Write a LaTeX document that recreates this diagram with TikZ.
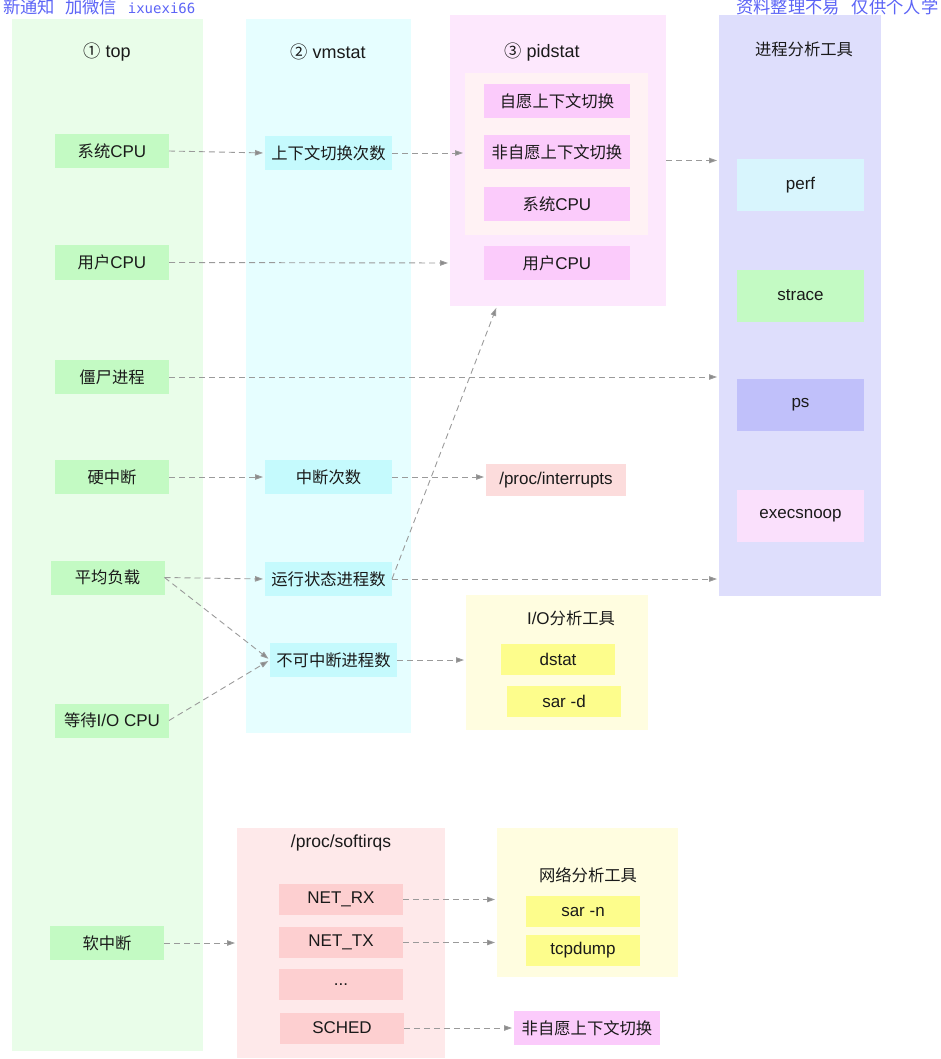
\documentclass[tikz,border=0pt]{standalone}
\usepackage{fontspec}
\setmainfont{Liberation Sans}
\newfontfamily\cjk[Scale=0.96]{Noto Sans CJK SC}
\newfontfamily\mono{DejaVu Sans Mono}
\usetikzlibrary{arrows.meta}
\definecolor{topbg}{HTML}{E9FDE9}
\definecolor{topitem}{HTML}{C3FAC3}
\definecolor{vmbg}{HTML}{E6FEFF}
\definecolor{vmitem}{HTML}{C5FAFD}
\definecolor{pidbg}{HTML}{FDE8FD}
\definecolor{pidinner}{HTML}{FFF2F4}
\definecolor{piditem}{HTML}{FBCBFB}
\definecolor{toolbg}{HTML}{DEDEFC}
\definecolor{perffill}{HTML}{D8F5FD}
\definecolor{psfill}{HTML}{C0C0FA}
\definecolor{execfill}{HTML}{FAE0FC}
\definecolor{yellowbg}{HTML}{FFFDE0}
\definecolor{yellowitem}{HTML}{FDFD8C}
\definecolor{softbg}{HTML}{FEE9EA}
\definecolor{softitem}{HTML}{FDCFD0}
\definecolor{irqfill}{HTML}{FCDCDC}
\definecolor{linkgray}{HTML}{9A9A9A}
\definecolor{txt}{HTML}{1A1A1A}
\definecolor{mark}{HTML}{5C64F6}

\begin{document}
\begin{tikzpicture}[x=1pt, y=-1pt,
    box/.style={inner sep=0pt, outer sep=0pt, text=txt, font=\fontsize{17}{20}\selectfont},
    link/.style={draw=linkgray, line width=0.9pt, dash pattern=on 6pt off 4pt,
        -{Triangle[length=8pt,width=5.5pt,fill=linkgray!90!black]}, shorten >=2pt}]
    \clip (0,0) rectangle (941,1059);

    % Watermarks
    \node[anchor=base west, inner sep=0pt, text=mark, font=\fontsize{18}{20}\selectfont] (markl) at (3,14)
        {{\cjk 新通知\hspace{10pt}加微信}\hspace{11pt}{\mono\fontsize{14}{16}\selectfont ixuexi66}};
    \node[anchor=base west, inner sep=0pt, text=mark, font=\fontsize{18}{20}\selectfont\cjk] (markr) at (736,14)
        {资料整理不易\hspace{12pt}仅供个人学};

    % Column backgrounds
    \node[box, fill=topbg, minimum width=191, minimum height=1032] (topcol) at (107.5,535) {};
    \node[box, fill=vmbg, minimum width=165, minimum height=714] (vmcol) at (328.5,376) {};
    \node[box, fill=pidbg, minimum width=216, minimum height=291] (pidcol) at (558,160.5) {};
    \node[box, fill=pidinner, minimum width=183, minimum height=162] (pidin) at (556.5,154) {};
    \node[box, fill=toolbg, minimum width=162, minimum height=581] (toolcol) at (800,305.5) {};
    \node[box, fill=yellowbg, minimum width=182, minimum height=135] (iobox) at (557,662.5) {};
    \node[box, fill=softbg, minimum width=208, minimum height=230] (softbox) at (341,943) {};
    \node[box, fill=yellowbg, minimum width=181, minimum height=149] (netbox) at (587.5,902.5) {};

    % Titles
    \node[box, font=\fontsize{18}{21}\selectfont] (toptitle) at (107,52) {{\cjk ①} top};
    \node[box, font=\fontsize{18}{21}\selectfont] (vmtitle) at (328,52) {{\cjk ②} vmstat};
    \node[box, font=\fontsize{18}{21}\selectfont] (pidtitle) at (542,52) {{\cjk ③} pidstat};
    \node[box] (tooltitle) at (804,49) {\cjk 进程分析工具};
    \node[box] (iotitle) at (571,618) {I/O{\cjk 分析工具}};
    \node[box, font=\fontsize{17.5}{21}\selectfont] (softtitle) at (341,843) {/proc/softirqs};
    \node[box] (nettitle) at (588,875) {\cjk 网络分析工具};

    % top
    \node[box, fill=topitem, minimum width=114, minimum height=34] (tsys) at (112,151) {{\cjk 系统}CPU};
    \node[box, fill=topitem, minimum width=114, minimum height=34] (tusr) at (112,262.5) {{\cjk 用户}CPU};
    \node[box, fill=topitem, minimum width=114, minimum height=34] (tzomb) at (112,377) {\cjk 僵尸进程};
    \node[box, fill=topitem, minimum width=114, minimum height=34] (thard) at (112,477) {\cjk 硬中断};
    \node[box, fill=topitem, minimum width=114, minimum height=34] (tload) at (107.5,577.5) {\cjk 平均负载};
    \node[box, fill=topitem, minimum width=114, minimum height=34] (tiowait) at (112,720.5) {{\cjk 等待}I/O CPU};
    \node[box, fill=topitem, minimum width=114, minimum height=34] (tsoft) at (107,943) {\cjk 软中断};

    % vmstat
    \node[box, fill=vmitem, minimum width=127, minimum height=34] (vcs) at (328.5,153) {\cjk 上下文切换次数};
    \node[box, fill=vmitem, minimum width=127, minimum height=34] (vintr) at (328.5,477) {\cjk 中断次数};
    \node[box, fill=vmitem, minimum width=127, minimum height=34] (vrun) at (328.5,579) {\cjk 运行状态进程数};
    \node[box, fill=vmitem, minimum width=127, minimum height=34] (vblk) at (333.5,660) {\cjk 不可中断进程数};

    % pidstat
    \node[box, fill=piditem, minimum width=146, minimum height=34] (pvol) at (557,101) {\cjk 自愿上下文切换};
    \node[box, fill=piditem, minimum width=146, minimum height=34] (pinvol) at (557,152.5) {\cjk 非自愿上下文切换};
    \node[box, fill=piditem, minimum width=146, minimum height=34] (psys) at (557,204.5) {{\cjk 系统}CPU};
    \node[box, fill=piditem, minimum width=146, minimum height=34] (pusr) at (557,263) {{\cjk 用户}CPU};

    % Process tools
    \node[box, fill=perffill, minimum width=127, minimum height=52] (perf) at (800.5,185) {perf};
    \node[box, fill=topitem, minimum width=127, minimum height=52] (strace) at (800.5,295.5) {strace};
    \node[box, fill=psfill, minimum width=127, minimum height=52] (ps) at (800.5,405) {ps};
    \node[box, fill=execfill, minimum width=127, minimum height=52] (execsnoop) at (800.5,516) {execsnoop};

    % interrupts and I/O tools
    \node[box, fill=irqfill, minimum width=140, minimum height=32] (irq) at (556,480) {/proc/interrupts};
    \node[box, fill=yellowitem, minimum width=114, minimum height=31] (dstat) at (558,659.5) {dstat};
    \node[box, fill=yellowitem, minimum width=114, minimum height=31] (sard) at (564,701.5) {sar -d};

    % softirqs and network tools
    \node[box, fill=softitem, minimum width=124, minimum height=31] (netrx) at (341,899.5) {NET\_RX};
    \node[box, fill=softitem, minimum width=124, minimum height=31] (nettx) at (341,942.5) {NET\_TX};
    \node[box, fill=softitem, minimum width=124, minimum height=31] (more) at (341,984.5) {...};
    \node[box, fill=softitem, minimum width=124, minimum height=31] (sched) at (342,1028) {SCHED};
    \node[box, fill=yellowitem, minimum width=114, minimum height=31] (sarn) at (583,911.5) {sar -n};
    \node[box, fill=yellowitem, minimum width=114, minimum height=31] (tcpdump) at (583,950.5) {tcpdump};
    \node[box, fill=piditem, minimum width=146, minimum height=34] (schedout) at (587,1028) {\cjk 非自愿上下文切换};

    % Links
    \draw[link] (tsys.east) -- (vcs.west);
    \draw[link] (vcs.east) -- (pidin.west |- vcs.east);
    \draw[link] (pidcol.east) -- (toolcol.west |- pidcol.east);
    \draw[link] (tusr.east) -- (pidcol.west |- pusr.west);
    \draw[link] (tzomb.east) -- (toolcol.west |- tzomb.east);
    \draw[link] (thard.east) -- (vintr.west);
    \draw[link] (vintr.east) -- (irq.west |- vintr.east);
    \draw[link] (tload.east) -- (vrun.west);
    \draw[link] (tload.east) -- (vblk.west);
    \draw[link] (tiowait.east) -- (vblk.west);
    \draw[link] (vrun.east) -- ([xshift=-61pt]pidcol.south);
    \draw[link] (vrun.east) -- (toolcol.west |- vrun.east);
    \draw[link] (vblk.east) -- (iobox.west |- vblk.east);
    \draw[link] (tsoft.east) -- (softbox.west |- tsoft.east);
    \draw[link] (netrx.east) -- (netbox.west |- netrx.east);
    \draw[link] (nettx.east) -- (netbox.west |- nettx.east);
    \draw[link] (sched.east) -- (schedout.west);
\end{tikzpicture}
\end{document}
